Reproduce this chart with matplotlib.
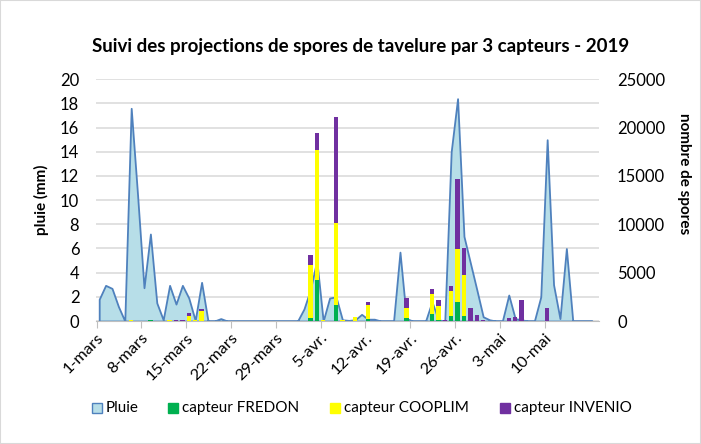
import matplotlib
matplotlib.use('Agg')
import matplotlib.pyplot as plt
import numpy as np
from matplotlib.patches import Rectangle

plt.rcParams['font.family'] = ['Lato', 'DejaVu Sans']

# ---- data (one value per day, from 1 March 2019) ----
tick_labels = ['1-mars', '8-mars', '15-mars', '22-mars', '29-mars', '5-avr.',
               '12-avr.', '19-avr.', '26-avr.', '3-mai', '10-mai']
tick_days = [0, 7, 14, 21, 28, 35, 42, 49, 56, 63, 70]

rain = [1.8, 2.95, 2.7, 1.2, 0, 17.6, 10.4, 2.75, 7.2, 1.5,
        0.1, 2.95, 1.4, 2.95, 1.9, 0.05, 3.2, 0, 0, 0.2,
        0, 0, 0, 0, 0, 0, 0, 0, 0, 0,
        0, 0, 1.0, 2.6, 5.0, 0, 1.9, 2.0, 0.1, 0.05,
        0.1, 0.55, 0.15, 0.15, 0, 0, 0, 5.7, 0.2, 0,
        0, 0, 1.6, 0.1, 0, 14.0, 18.4, 7.0, 4.8, 2.6,
        0.35, 0.1, 0, 0, 2.15, 0.2, 0.1, 0, 0, 2.0,
        15.0, 3.0, 0.2, 6.0, 0, 0, 0, 0]

fredon = [0, 0, 0, 0, 0, 0, 0, 0, 60, 0,
          0, 0, 0, 0, 0, 0, 0, 0, 0, 0,
          0, 0, 0, 0, 0, 0, 0, 0, 0, 0,
          0, 0, 0, 280, 4240, 0, 0, 1650, 0, 0,
          0, 0, 180, 0, 0, 0, 0, 0, 280, 0,
          0, 0, 750, 60, 0, 550, 2000, 520, 0, 0,
          0, 0, 0, 0, 0, 0, 0, 0, 0, 30,
          40, 30, 30, 0, 0, 0, 0, 0]

cooplim = [0, 0, 0, 0, 0, 80, 0, 0, 0, 0,
           0, 80, 0, 0, 520, 80, 1070, 0, 0, 0,
           0, 0, 0, 0, 0, 0, 0, 0, 0, 0,
           0, 0, 0, 5500, 13440, 120, 0, 8520, 100, 0,
           380, 0, 1520, 0, 0, 0, 0, 0, 1030, 0,
           0, 0, 2060, 1500, 0, 2570, 5400, 4240, 0, 0,
           0, 0, 0, 0, 0, 0, 0, 0, 0, 0,
           0, 0, 0, 0, 0, 0, 0, 0]

invenio = [0, 0, 0, 0, 0, 0, 0, 0, 0, 0,
           0, 0, 80, 80, 280, 0, 220, 0, 0, 0,
           0, 0, 0, 0, 0, 0, 0, 0, 0, 0,
           0, 0, 0, 1040, 1730, 0, 0, 10890, 0, 0,
           0, 0, 300, 0, 0, 0, 0, 0, 1040, 0,
           0, 0, 500, 600, 60, 500, 7250, 2820, 1310, 620,
           60, 0, 0, 0, 300, 450, 2170, 0, 0, 0,
           1310, 0, 0, 0, 0, 0, 0, 0]

legend_labels = ['Pluie', 'capteur FREDON', 'capteur COOPLIM', 'capteur INVENIO']

# ---- figure ----
W, H = 701, 444
fig = plt.figure(figsize=(W / 100, H / 100), dpi=100)
fig.patches.append(Rectangle((0, 0), 1, 1, transform=fig.transFigure,
                             fill=False, edgecolor='#D9D9D9', lw=1.5))

left, right, top, bottom = 96, 599, 79.3, 321
ax = fig.add_axes([left / W, 1 - bottom / H, (right - left) / W, (bottom - top) / H])

days = np.arange(len(rain))
ax.fill_between(days, rain, 0, facecolor='#B7DEE8', edgecolor='#4F81BD',
                linewidth=1.3, zorder=2)

ax.set_ylim(0, 20)
ax.set_yticks(np.arange(0, 21, 2))
ax.set_xlim(-0.5, 78.1)
ax.set_xticks([d - 0.4 for d in tick_days])
ax.set_xticklabels(tick_labels, rotation=45, ha='right', va='top',
                   rotation_mode='anchor', fontsize=11.8)
ax.grid(axis='y', color='#D9D9D9', lw=1.1)
ax.set_axisbelow(True)
for s in ['left', 'right', 'top']:
    ax.spines[s].set_visible(False)
ax.spines['bottom'].set_color('#BFBFBF')
ax.tick_params(axis='x', length=5, color='#BFBFBF', pad=2)
ax.tick_params(axis='y', length=0, labelsize=12, pad=12)
ax.set_ylabel('pluie (mm)', fontsize=11, fontweight='bold')
ax.yaxis.set_label_coords(-0.093, 0.5)

ax2 = ax.twinx()
w = 0.7
f = np.array(fredon, float)
c = np.array(cooplim, float)
i = np.array(invenio, float)
ax2.bar(days, f, width=w, color='#00B050', zorder=3)
ax2.bar(days, c, width=w, bottom=f, color='#FFFF00', zorder=3)
ax2.bar(days, i, width=w, bottom=f + c, color='#7030A0', zorder=3)
ax2.set_ylim(0, 25000)
ax2.set_yticks(np.arange(0, 25001, 5000))
for s in ['left', 'right', 'top', 'bottom']:
    ax2.spines[s].set_visible(False)
ax2.tick_params(axis='y', length=0, labelsize=12, pad=13)
ax2.set_ylabel('nombre de spores', fontsize=11, fontweight='bold', rotation=-90)
ax2.yaxis.set_label_coords(1.183, 0.61)

fig.text(361 / W, 1 - 46 / H,
         'Suivi des projections de spores de tavelure par 3 capteurs - 2019',
         ha='center', va='center', fontsize=13.5, fontweight='bold')

# legend (manual placement to mimic Excel spacing)
leg_x = [92, 168, 330, 500]
leg_face = ['#B7DEE8', '#00B050', '#FFFF00', '#7030A0']
leg_edge = ['#4F81BD', '#00B050', '#FFFF00', '#7030A0']
leg_y = 408
sq = 10
for x0, lab, fc, ec in zip(leg_x, legend_labels, leg_face, leg_edge):
    fig.patches.append(Rectangle((x0 / W, 1 - (leg_y + sq / 2) / H), sq / W, sq / H,
                                 transform=fig.transFigure, facecolor=fc,
                                 edgecolor=ec, lw=1))
    fig.text((x0 + sq + 4) / W, 1 - leg_y / H, lab, ha='left', va='center',
             fontsize=11)

fig.savefig('out.png', dpi=100)
